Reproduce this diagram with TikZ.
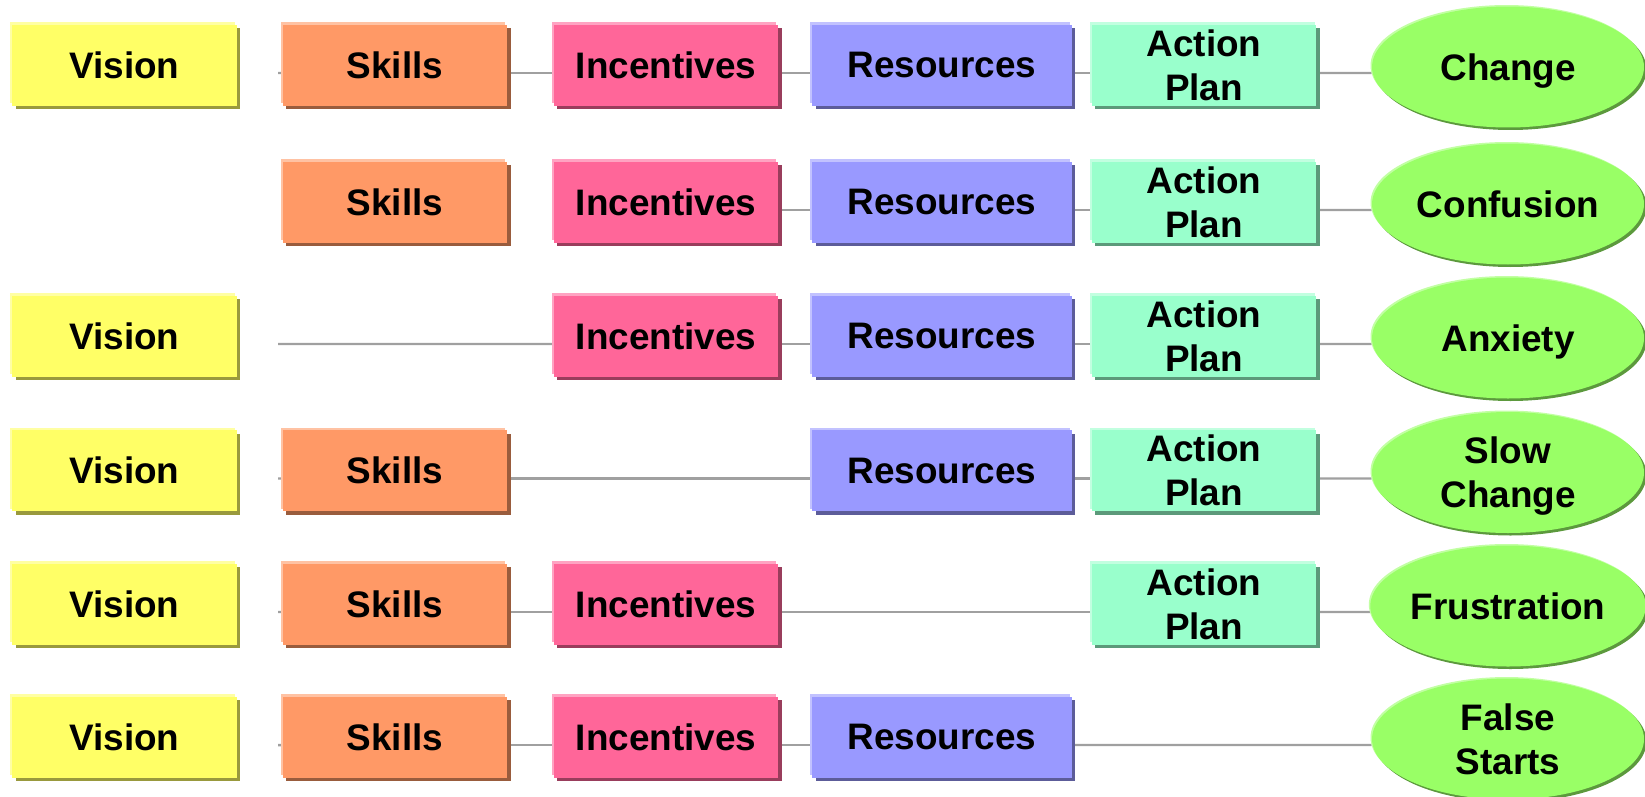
\documentclass[tikz,border=0pt]{standalone}
\usepackage{fontspec}
\setmainfont{Liberation Sans}
\usetikzlibrary{shapes.geometric,shadows,backgrounds}

\definecolor{visioncol}{HTML}{FFFF66}
\definecolor{skillcol}{HTML}{FF9966}
\definecolor{incentcol}{HTML}{FF6699}
\definecolor{resourcecol}{HTML}{9999FF}
\definecolor{plancol}{HTML}{99FFCC}
\definecolor{outcomecol}{HTML}{99FF66}
\definecolor{linkcol}{HTML}{A0A0A0}

\begin{document}
\begin{tikzpicture}[x=0.02cm, y=-0.02cm,
        every node/.style={font=\bfseries\fontsize{21}{25}\selectfont, align=center, inner sep=0pt},
        tile/.style={rectangle, minimum width=4.5cm, minimum height=1.62cm, fill=#1,
            general shadow={fill=#1!60!white, shadow xshift=-0.04cm, shadow yshift=0.045cm},
            general shadow={fill=#1!60!black, shadow xshift=0.07cm, shadow yshift=-0.07cm}},
        vision/.style={tile=visioncol},
        skills/.style={tile=skillcol},
        incentives/.style={tile=incentcol},
        resources/.style={tile=resourcecol, minimum width=5.2cm},
        plan/.style={tile=plancol},
        outcome/.style={ellipse, minimum width=5.44cm, minimum height=2.42cm, fill=outcomecol, text depth=0pt,
            general shadow={fill=outcomecol!60!white, shadow xshift=-0.03cm, shadow yshift=0.03cm},
            general shadow={fill=outcomecol!60!black, shadow xshift=0.05cm, shadow yshift=-0.05cm}},
        link/.style={draw=linkcol, line width=1.4pt}]
        \useasboundingbox (0, 0) rectangle (1645, 796);

        % Change
        \node[vision] (v1) at (124.5, 65) {Vision};
        \node[skills] (s1) at (395, 65) {Skills};
        \node[incentives] (i1) at (666, 65) {Incentives};
        \node[resources] (r1) at (942, 65) {Resources};
        \node[plan] (a1) at (1204, 65) {Action\\Plan};
        \node[outcome] (o1) at (1508, 67) {Change};
        \coordinate (c1) at (278, 73);

        % Confusion
        \node[skills] (s2) at (395, 202) {Skills};
        \node[incentives] (i2) at (666, 202) {Incentives};
        \node[resources] (r2) at (942, 202) {Resources};
        \node[plan] (a2) at (1204, 202) {Action\\Plan};
        \node[outcome] (o2) at (1508, 204) {Confusion};

        % Anxiety
        \node[vision] (v3) at (124.5, 336) {Vision};
        \node[incentives] (i3) at (666, 336) {Incentives};
        \node[resources] (r3) at (942, 336) {Resources};
        \node[plan] (a3) at (1204, 336) {Action\\Plan};
        \node[outcome] (o3) at (1508, 338) {Anxiety};
        \coordinate (c3) at (278, 344);

        % Slow Change
        \node[vision] (v4) at (124.5, 470.5) {Vision};
        \node[skills] (s4) at (395, 470.5) {Skills};
        \node[resources] (r4) at (942, 470.5) {Resources};
        \node[plan] (a4) at (1204, 470.5) {Action\\Plan};
        \node[outcome] (o4) at (1508, 472.5) {Slow\\Change};
        \coordinate (c4) at (278, 478.5);

        % Frustration
        \node[vision] (v5) at (124.5, 604) {Vision};
        \node[skills] (s5) at (395, 604) {Skills};
        \node[incentives] (i5) at (666, 604) {Incentives};
        \node[plan] (a5) at (1204, 604) {Action\\Plan};
        \node[outcome] (o5) at (1508, 606) {Frustration};
        \coordinate (c5) at (278, 612);

        % False Starts
        \node[vision] (v6) at (124.5, 737) {Vision};
        \node[skills] (s6) at (395, 737) {Skills};
        \node[incentives] (i6) at (666, 737) {Incentives};
        \node[resources] (r6) at (942, 737) {Resources};
        \node[outcome] (o6) at (1508, 739) {False\\Starts};
        \coordinate (c6) at (278, 745);

        \begin{scope}[on background layer]
            \draw[link] (c1) -- ([yshift=-0.16cm]s1.west);
            \draw[link] ([yshift=-0.16cm]s1.east) -- ([yshift=-0.16cm]i1.west);
            \draw[link] ([yshift=-0.16cm]i1.east) -- ([yshift=-0.16cm]r1.west);
            \draw[link] ([yshift=-0.16cm]r1.east) -- ([yshift=-0.16cm]a1.west);
            \draw[link] ([yshift=-0.16cm]a1.east) -- ([yshift=-0.12cm]o1.west);

            \draw[link] ([yshift=-0.16cm]i2.east) -- ([yshift=-0.16cm]r2.west);
            \draw[link] ([yshift=-0.16cm]r2.east) -- ([yshift=-0.16cm]a2.west);
            \draw[link] ([yshift=-0.16cm]a2.east) -- ([yshift=-0.12cm]o2.west);

            \draw[link] (c3) -- ([yshift=-0.16cm]i3.west);
            \draw[link] ([yshift=-0.16cm]i3.east) -- ([yshift=-0.16cm]r3.west);
            \draw[link] ([yshift=-0.16cm]r3.east) -- ([yshift=-0.16cm]a3.west);
            \draw[link] ([yshift=-0.16cm]a3.east) -- ([yshift=-0.12cm]o3.west);

            \draw[link] (c4) -- ([yshift=-0.16cm]s4.west);
            \draw[link] ([yshift=-0.16cm]s4.east) -- ([yshift=-0.16cm]r4.west);
            \draw[link] ([yshift=-0.16cm]r4.east) -- ([yshift=-0.16cm]a4.west);
            \draw[link] ([yshift=-0.16cm]a4.east) -- ([yshift=-0.12cm]o4.west);

            \draw[link] (c5) -- ([yshift=-0.16cm]s5.west);
            \draw[link] ([yshift=-0.16cm]s5.east) -- ([yshift=-0.16cm]i5.west);
            \draw[link] ([yshift=-0.16cm]i5.east) -- ([yshift=-0.16cm]a5.west);
            \draw[link] ([yshift=-0.16cm]a5.east) -- ([yshift=-0.12cm]o5.west);

            \draw[link] (c6) -- ([yshift=-0.16cm]s6.west);
            \draw[link] ([yshift=-0.16cm]s6.east) -- ([yshift=-0.16cm]i6.west);
            \draw[link] ([yshift=-0.16cm]i6.east) -- ([yshift=-0.16cm]r6.west);
            \draw[link] ([yshift=-0.16cm]r6.east) -- ([yshift=-0.12cm]o6.west);
        \end{scope}
    \end{tikzpicture}
\end{document}
